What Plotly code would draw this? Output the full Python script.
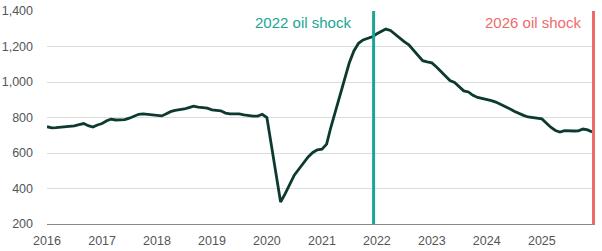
import plotly.graph_objects as go
import pandas as pd

# Monthly values, Jan 2016 - Dec 2025
values = [
    748, 742, 743, 746, 747, 748, 753, 760, 766, 754, 746, 758,   # 2016
    766, 782, 791, 786, 786, 788, 796, 806, 818, 820, 817, 815,   # 2017
    814, 809, 820, 833, 840, 842, 848, 856, 864, 858, 856, 853,   # 2018
    843, 840, 838, 825, 820, 820, 820, 815, 810, 808, 808, 818,   # 2019
    800, 645, 485, 324, 370, 425, 475, 510, 545, 578, 603, 618,   # 2020
    622, 650, 745, 840, 925, 1020, 1107, 1175, 1218, 1237, 1247, 1255,  # 2021
    1272, 1288, 1298, 1290, 1268, 1248, 1228, 1210, 1178, 1150, 1120, 1113,  # 2022
    1108, 1085, 1060, 1030, 1008, 998, 975, 950, 944, 925, 913, 908,  # 2023
    903, 895, 887, 875, 862, 850, 835, 822, 812, 803, 800, 797,   # 2024
    792, 768, 745, 727, 718, 726, 724, 724, 725, 735, 730, 718,   # 2025
]
dates = pd.date_range("2016-01-01", periods=len(values), freq="MS")

year_ticks = [f"{y}-01-01" for y in range(2016, 2026)]
year_labels = [str(y) for y in range(2016, 2026)]
y_ticks = [200, 400, 600, 800, 1000, 1200, 1400]

shock_dates = ["2021-12-10", "2025-12-10"]
shock_labels = ["2022 oil shock", "2026 oil shock"]
shock_colors = ["#1aa594", "#ee6b6b"]
label_shift = [-21, -10]

fig = go.Figure()
fig.add_trace(go.Scatter(
    x=dates, y=values, mode="lines",
    line=dict(color="#0c3a30", width=2.8),
    hoverinfo="skip", showlegend=False,
))

for d, lab, col, sh in zip(shock_dates, shock_labels, shock_colors, label_shift):
    fig.add_shape(type="line", x0=d, x1=d, xref="x", y0=0, y1=1, yref="paper",
                  line=dict(color=col, width=3))
    fig.add_annotation(x=d, y=1335, xref="x", yref="y", text=lab, showarrow=False,
                       xanchor="right", yanchor="middle", xshift=sh,
                       font=dict(family="Liberation Sans, Arial, sans-serif", size=15, color=col))

fig.update_layout(
    width=602, height=251,
    margin=dict(l=47, r=7, t=11, b=27),
    paper_bgcolor="white", plot_bgcolor="white",
    font=dict(family="Liberation Sans, Arial, sans-serif", size=12.5, color="#555555"),
    showlegend=False,
)
fig.update_xaxes(
    range=["2016-01-01", "2025-12-20"],
    tickmode="array", tickvals=year_ticks, ticktext=year_labels,
    showgrid=False, showline=True, linecolor="#8a8a8a", linewidth=1.2,
    ticks="", ticklabelstandoff=5, zeroline=False, automargin=False,
)
fig.update_yaxes(
    range=[200, 1400],
    tickmode="array", tickvals=y_ticks, tickformat=",",
    showgrid=True, gridcolor="#dcdcdc", gridwidth=1,
    showline=False, zeroline=False, ticks="", ticklabelstandoff=13,
    automargin=False,
)

fig.write_html("out.html")
